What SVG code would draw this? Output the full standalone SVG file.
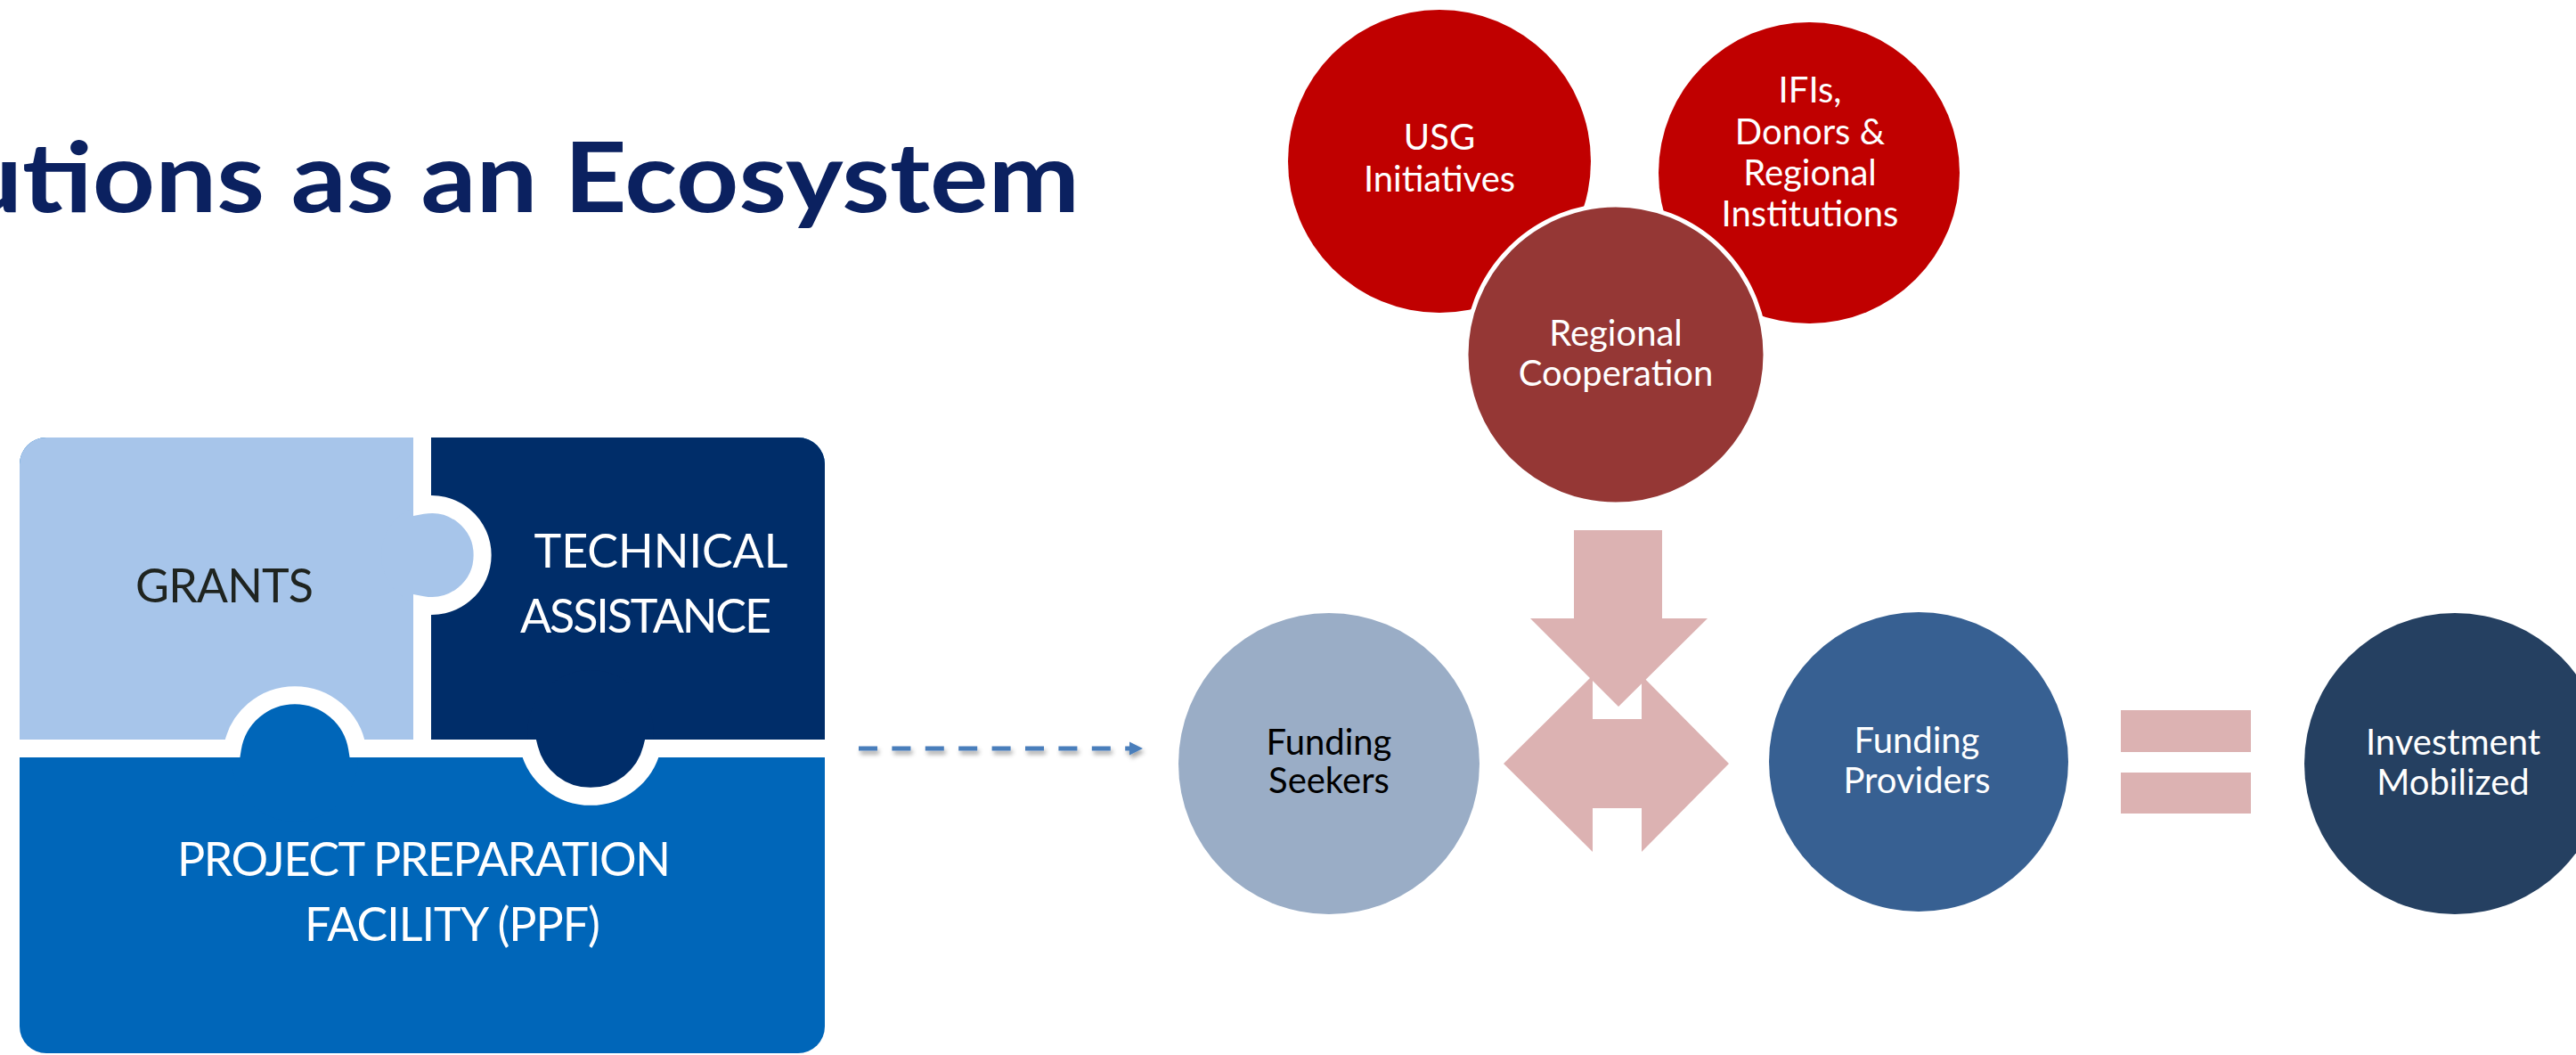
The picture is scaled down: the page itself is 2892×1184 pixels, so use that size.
<svg xmlns="http://www.w3.org/2000/svg" width="2892" height="1184" viewBox="0 0 2892 1184">
  <style>
    .title { font-family: Lato, "Open Sans", "Liberation Sans", sans-serif; font-weight: 700; font-size: 110px; fill: #0B2160; }
    .plabel { font-family: Lato, "Liberation Sans", sans-serif; font-size: 52px; }
    .clabel { font-family: Lato, "Liberation Sans", sans-serif; font-size: 40px; text-anchor: middle; fill: #FFFFFF; }
    .dark { fill: #1F2420; }
    .light { fill: #FFFFFF; }
    .pink { fill: #DCB2B2; }
  </style>
  <defs>
    <clipPath id="puzzleClip">
      <rect x="22" y="491" width="904" height="691" rx="30" ry="30"/>
    </clipPath>
    <marker id="arrowHead" markerUnits="userSpaceOnUse" markerWidth="16" markerHeight="16" refX="2" refY="8" orient="auto">
      <path d="M0,0.5 L15,8 L0,15.5 Z" fill="#4A7EBB"/>
    </marker>
    <filter id="softShadow" filterUnits="userSpaceOnUse" x="930" y="815" width="380" height="55">
      <feDropShadow dx="2" dy="4" stdDeviation="2.5" flood-color="#000000" flood-opacity="0.35"/>
    </filter>
  </defs>

  <!-- Heading, running off the left edge -->
  <text class="title" x="-44" y="238" textLength="1256" lengthAdjust="spacingAndGlyphs">utions as an Ecosystem</text>

  <!-- Jigsaw of funding instruments -->
  <g id="puzzle" clip-path="url(#puzzleClip)">
    <g id="ppf">
      <rect x="22" y="491" width="904" height="691" fill="#0066B9"/>
    </g>
    <g id="grants">
      <rect x="22" y="491" width="452" height="349" fill="#A7C5EA"/>
    </g>
    <g id="technical-assistance">
      <rect x="474" y="491" width="452" height="349" fill="#002D69"/>
    </g>
    <!-- tabs: GRANTS into TA, PPF into GRANTS, TA into PPF -->
    <circle cx="485" cy="623" r="57" fill="#A7C5EA"/>
    <circle cx="331" cy="851" r="71" fill="#0066B9"/>
    <circle cx="663" cy="823" r="71" fill="#002D69"/>
    <!-- white seams between the pieces -->
    <path d="M474,480 V567 A57,57 0 1,1 474,679 V840 M10,840 H260.9 A71,71 0 0,1 401.1,840 H594.1 A71,71 0 0,0 731.9,840 H940" fill="none" stroke="#FFFFFF" stroke-width="20"/>
  </g>
  <g id="puzzle-labels">
    <text class="plabel dark" x="252" y="676" text-anchor="middle" textLength="200">GRANTS</text>
    <text class="plabel light" x="742" y="637" text-anchor="middle" textLength="285">TECHNICAL</text>
    <text class="plabel light" x="725" y="710" text-anchor="middle" textLength="282">ASSISTANCE</text>
    <text class="plabel light" x="476" y="983" text-anchor="middle" textLength="554">PROJECT PREPARATION</text>
    <text class="plabel light" x="508" y="1056" text-anchor="middle" textLength="332">FACILITY (PPF)</text>
  </g>

  <!-- Sources of support -->
  <g id="usg-initiatives">
    <circle cx="1616" cy="181" r="170" fill="#C00000"/>
    <text class="clabel" x="1616" y="168">USG</text>
    <text class="clabel" x="1616" y="215">Initiatives</text>
  </g>
  <g id="ifis-donors">
    <circle cx="2031" cy="194" r="169" fill="#C00000"/>
    <text class="clabel" x="2032" y="115">IFIs,</text>
    <text class="clabel" x="2032" y="162">Donors &amp;</text>
    <text class="clabel" x="2032" y="208">Regional</text>
    <text class="clabel" x="2032" y="254">Institutions</text>
  </g>
  <g id="regional-cooperation">
    <circle cx="1814" cy="398" r="168" fill="#953735" stroke="#FFFFFF" stroke-width="5"/>
    <text class="clabel" x="1814" y="388">Regional</text>
    <text class="clabel" x="1814" y="433">Cooperation</text>
  </g>

  <!-- Equation row -->
  <g id="funding-seekers">
    <circle cx="1492" cy="857" r="169" fill="#9AADC6"/>
    <text class="clabel" x="1492" y="847" style="fill:#000000">Funding</text>
    <text class="clabel" x="1492" y="890" style="fill:#000000">Seekers</text>
  </g>
  <g id="funding-providers">
    <circle cx="2154" cy="855" r="168" fill="#376092"/>
    <text class="clabel" x="2152" y="845">Funding</text>
    <text class="clabel" x="2152" y="890">Providers</text>
  </g>
  <g id="investment-mobilized">
    <circle cx="2756" cy="857" r="169" fill="#254061"/>
    <text class="clabel" x="2754" y="847">Investment</text>
    <text class="clabel" x="2754" y="892">Mobilized</text>
  </g>

  <g id="connectors">
    <!-- dashed link from the puzzle to the seekers -->
    <g filter="url(#softShadow)">
      <line x1="964" y1="840" x2="1270" y2="840" stroke="#4A7EBB" stroke-width="5" stroke-dasharray="21 16.4" marker-end="url(#arrowHead)"/>
    </g>
    <!-- downward block arrow from regional cooperation -->
    <polygon class="pink" points="1767,595 1866,595 1866,694 1917,694 1817,793 1718,694 1767,694"/>
    <!-- left-right block arrow between seekers and providers -->
    <polygon class="pink" points="1688,857 1788,758 1788,807 1843,807 1843,758 1941,857 1843,956 1843,907 1788,907 1788,956"/>
    <!-- equals sign -->
    <rect class="pink" x="2381" y="797" width="146" height="47"/>
    <rect class="pink" x="2381" y="867" width="146" height="46"/>
  </g>
</svg>
